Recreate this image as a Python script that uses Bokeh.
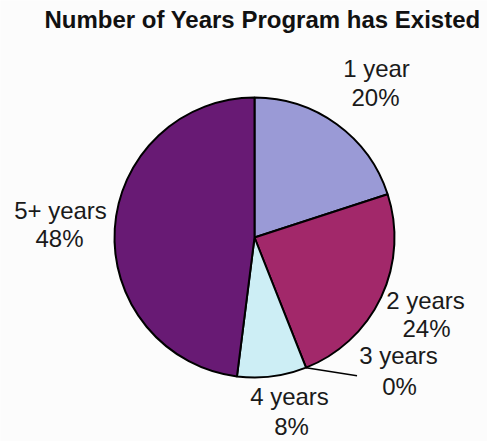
import math
from bokeh.plotting import figure
from bokeh.models import Range1d, ColumnDataSource
from bokeh.core.properties import value
from bokeh.embed import file_html
from bokeh.resources import INLINE

# ---- data ----
categories = ["1 year", "2 years", "3 years", "4 years", "5+ years"]
percents = [20, 24, 0, 8, 48]
colors = ["#9a9ad6", "#a2286a", "#6f7fbf", "#cdeef5", "#681a74"]
title_text = "Number of Years Program has Existed"

# ---- layout (pixels) ----
W, H = 487, 441
cx, cy, R = 254, 204, 140
# label centres (name line, percent line) in plot pixel coords, y up
name_pos = [(376, 373), (425, 141), (398, 86), (289, 45), (60, 231)]
pct_pos = [(375, 344), (426, 113), (399, 55), (291, 15), (59, 203)]
FONT = "Liberation Sans"

p = figure(width=W, height=H, x_range=Range1d(0, W), y_range=Range1d(0, H),
           output_backend="svg", toolbar_location=None,
           x_axis_type=None, y_axis_type=None, min_border=0)
p.grid.visible = False
p.outline_line_color = None
p.background_fill_color = "#fcfcfc"
p.border_fill_color = "#fcfcfc"

# wedges: clockwise from 12 o'clock
total = sum(percents)
starts, ends = [], []
cum = 0.0
for v in percents:
    a0 = math.pi / 2 - 2 * math.pi * cum / total
    cum += v
    a1 = math.pi / 2 - 2 * math.pi * cum / total
    starts.append(a0)
    ends.append(a1)

idx = [i for i, v in enumerate(percents) if v > 0]
src = ColumnDataSource(dict(
    start=[starts[i] for i in idx], end=[ends[i] for i in idx],
    color=[colors[i] for i in idx]))
p.wedge(x=cx, y=cy, radius=R, start_angle="start", end_angle="end",
        direction="clock", fill_color="color", line_color="black",
        line_width=2, source=src)

# leader line for the zero slice
for i, v in enumerate(percents):
    if v == 0:
        a = starts[i]
        sx, sy = cx + R * math.cos(a), cy + R * math.sin(a)
        p.line([sx, sx + 51], [sy, sy - 8], line_color="black", line_width=1.5)

# labels
p.text(x=[q[0] for q in name_pos], y=[q[1] for q in name_pos], text=categories,
       text_font=value(FONT), text_font_size="24px", text_align="center",
       text_baseline="middle", text_color="#1a1a1a")
p.text(x=[q[0] for q in pct_pos], y=[q[1] for q in pct_pos],
       text=[f"{v}%" for v in percents],
       text_font=value(FONT), text_font_size="24px", text_align="center",
       text_baseline="middle", text_color="#1a1a1a")

# title
p.text(x=[262], y=[422], text=[title_text], text_font=value(FONT),
       text_font_size="24px", text_font_style="bold", text_align="center",
       text_baseline="middle", text_color="#111111")

open("out.html", "w").write(file_html(p, INLINE))
